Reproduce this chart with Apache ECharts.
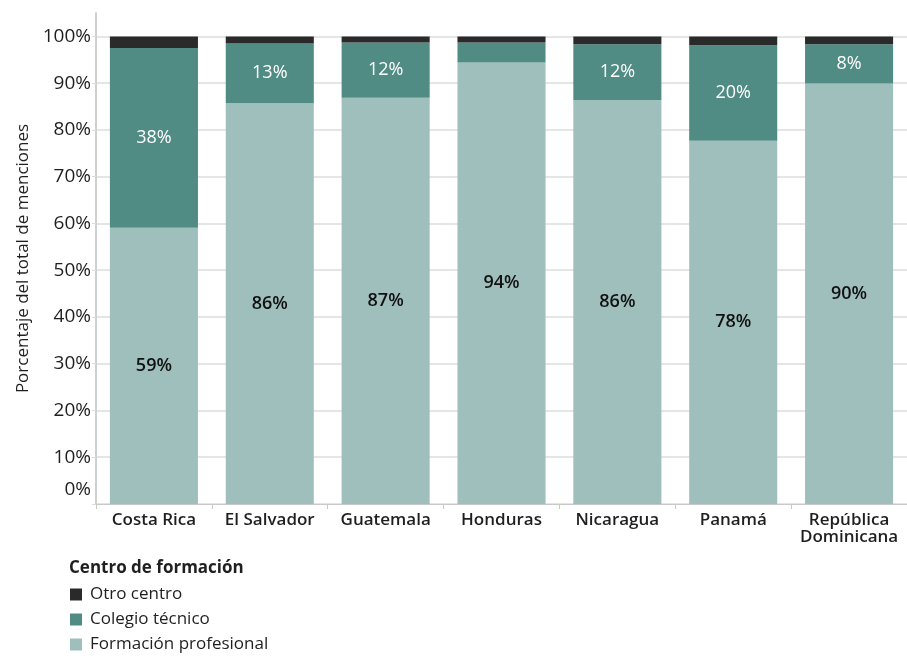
<!DOCTYPE html>
<html>
<head>
<meta charset="utf-8">
<script src="https://cdn.jsdelivr.net/npm/echarts@6/dist/echarts.min.js"></script>
<style>
  html, body { margin: 0; padding: 0; background: #fff; }
  #chart { width: 907px; height: 656px; }
</style>
</head>
<body>
<div id="chart"></div>
<script>
// Share of mentions by training centre, per country (%)
const countries = ['Costa Rica', 'El Salvador', 'Guatemala', 'Honduras', 'Nicaragua', 'Panamá', 'República\nDominicana'];
const formacion = [59.1, 85.7, 86.9, 94.4, 86.4, 77.7, 89.9];
const colegio = [38.4, 12.8, 11.8, 4.3, 11.9, 20.4, 8.4];
const otro = [2.5, 1.5, 1.3, 1.3, 1.7, 1.9, 1.7];
const yTicks = [0, 10, 20, 30, 40, 50, 60, 70, 80, 90, 100];

const colors = {
  otro: '#2a2a2a',
  colegio: '#508b84',
  formacion: '#9fbfbd',
  text: '#1f1f1f',
  grid: '#dcdcdc'
};

const chart = echarts.init(document.getElementById('chart'));

const pctLabel = (p) => p.value < 5 ? '' : Math.round(p.value) + '%';

chart.setOption({
  animation: false,
  title: {
    text: 'Centro de formación',
    left: 64,
    top: 555,
    textStyle: { fontFamily: 'Open Sans', fontWeight: 'bold', fontSize: 17, color: colors.text }
  },
  legend: {
    orient: 'vertical',
    left: 70,
    top: 585,
    padding: 0,
    itemWidth: 12,
    itemHeight: 12,
    itemGap: 6,
    icon: 'rect',
    data: ['Otro centro', 'Colegio técnico', 'Formación profesional'],
    textStyle: { fontFamily: 'Open Sans', fontSize: 17, lineHeight: 19, color: colors.text, padding: [0, 0, 0, 3] }
  },
  grid: { left: 96, right: 0, top: 13, bottom: 152 },
  xAxis: {
    type: 'category',
    data: countries,
    axisLine: { lineStyle: { color: '#c8c8c8', width: 1 } },
    axisTick: { show: true, alignWithLabel: false, length: 5, lineStyle: { color: '#c8c8c8' } },
    axisLabel: {
      color: colors.text, fontFamily: 'Open Sans', fontWeight: 600, fontSize: 17,
      margin: 8, lineHeight: 17, interval: 0
    }
  },
  yAxis: {
    type: 'value',
    min: 0,
    max: 105,
    interval: 10,
    name: 'Porcentaje del total de menciones',
    nameLocation: 'middle',
    nameGap: 63,
    nameTextStyle: { fontFamily: 'Open Sans', fontSize: 17, color: colors.text },
    axisLine: { show: true, lineStyle: { color: '#d0d0d0', width: 2 } },
    axisTick: { show: true, length: 4, customValues: yTicks, lineStyle: { color: colors.grid } },
    axisLabel: {
      customValues: yTicks,
      color: colors.text, fontFamily: 'Open Sans', fontSize: 19, margin: 5,
      formatter: (v) => v > 100 ? '' : (v === 0 ? '{z|0%}' : v + '%'),
      rich: { z: { fontFamily: 'Open Sans', fontSize: 19, color: colors.text, padding: [0, 0, 28, 0] } }
    },
    splitLine: {
      show: true,
      lineStyle: { color: [...yTicks.map(() => colors.grid), 'rgba(0,0,0,0)'], width: 1.5 }
    }
  },
  series: [
    {
      name: 'Formación profesional',
      type: 'bar',
      stack: 'total',
      data: formacion,
      barCategoryGap: '24%',
      itemStyle: { color: colors.formacion },
      label: {
        show: true, position: 'inside', formatter: pctLabel,
        color: '#111', fontFamily: 'Open Sans', fontWeight: 600, fontSize: 18
      }
    },
    {
      name: 'Colegio técnico',
      type: 'bar',
      stack: 'total',
      data: colegio,
      itemStyle: { color: colors.colegio },
      label: {
        show: true, position: 'inside', formatter: pctLabel,
        color: '#fff', fontFamily: 'Open Sans', fontSize: 18
      }
    },
    {
      name: 'Otro centro',
      type: 'bar',
      stack: 'total',
      data: otro,
      itemStyle: { color: colors.otro }
    }
  ]
});
</script>
</body>
</html>
